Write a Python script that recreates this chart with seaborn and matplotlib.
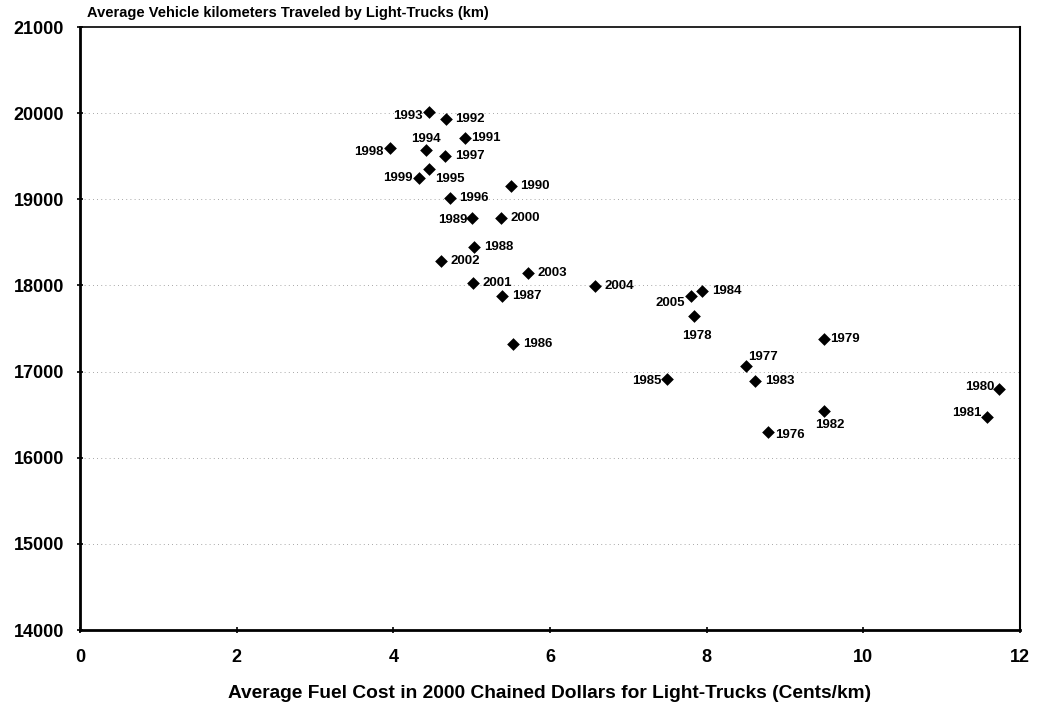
import seaborn as sns
import matplotlib.pyplot as plt
import pandas as pd

# data
years = [1976, 1977, 1978, 1979, 1980, 1981, 1982, 1983, 1984, 1985,
         1986, 1987, 1988, 1989, 1990, 1991, 1992, 1993, 1994, 1995,
         1996, 1997, 1998, 1999, 2000, 2001, 2002, 2003, 2004, 2005]
fuel_cost = [8.78, 8.50, 7.84, 9.50, 11.73, 11.58, 9.50, 8.62, 7.94, 7.49,
             5.53, 5.39, 5.03, 5.00, 5.50, 4.92, 4.67, 4.46, 4.42, 4.46,
             4.72, 4.66, 3.96, 4.33, 5.37, 5.02, 4.61, 5.72, 6.57, 7.80]
vkt = [16300, 17060, 17640, 17380, 16800, 16470, 16540, 16890, 17930, 16910,
       17320, 17880, 18450, 18780, 19150, 19710, 19930, 20010, 19570, 19350,
       19010, 19500, 19600, 19250, 18780, 18030, 18280, 18150, 17990, 17880]

df = pd.DataFrame({"year": years, "cost": fuel_cost, "vkt": vkt})

# label placement: (dx, dy) in points, horizontal alignment
label_pos = {
    1993: (-5, -3, "right"), 1992: (7, 0, "left"), 1991: (4, 0, "left"),
    1994: (0, 8, "center"), 1998: (-5, -3, "right"), 1997: (7, 0, "left"),
    1995: (4, -7, "left"), 1999: (-5, 0, "right"), 1990: (7, 0, "left"),
    1996: (7, 0, "left"), 1989: (-3, -1, "right"), 2000: (7, 0, "left"),
    1988: (7, 0, "left"), 2002: (7, 0, "left"), 2003: (7, 0, "left"),
    2001: (7, 0, "left"), 2004: (7, 0, "left"), 1987: (7, 0, "left"),
    1986: (7, 0, "left"), 2005: (-4, -5, "right"), 1984: (7, 0, "left"),
    1978: (2, -14, "center"), 1979: (4, 0, "left"), 1977: (2, 7, "left"),
    1985: (-4, -1, "right"), 1983: (7, 0, "left"), 1982: (4, -10, "center"),
    1976: (5, -2, "left"), 1980: (-3, 1, "right"), 1981: (-4, 3, "right"),
}

sns.set_style("white")
plt.rcParams["font.family"] = ["Liberation Sans", "DejaVu Sans"]
plt.rcParams["font.weight"] = "bold"
plt.rcParams["text.color"] = "black"
plt.rcParams["xtick.color"] = "black"
plt.rcParams["ytick.color"] = "black"
plt.rcParams["axes.labelcolor"] = "black"

fig = plt.figure(figsize=(10.37, 7.07), dpi=100)
ax = fig.add_axes([0.0771, 0.1089, 0.9065, 0.8529])

for yv in range(15000, 21000, 1000):
    ax.axhline(yv, color="#8a8a8a", lw=0.6, ls=(0, (1, 4)), zorder=0)

sns.scatterplot(data=df, x="cost", y="vkt", marker="D", s=42, color="black",
                edgecolor="black", linewidth=0, ax=ax, zorder=3)

for yr, xv, yv in zip(years, fuel_cost, vkt):
    dx, dy, ha = label_pos[yr]
    ax.annotate(str(yr), (xv, yv), xytext=(dx, dy), textcoords="offset points",
                ha=ha, va="center", fontsize=9.5, fontweight="bold")

ax.set_xlim(0, 12)
ax.set_ylim(14000, 21000)
ax.set_xticks(range(0, 13, 2))
ax.set_yticks(range(14000, 21001, 1000))
ax.tick_params(axis="both", labelsize=13, length=5, width=1.2, direction="inout",
               left=True, bottom=True)
ax.tick_params(axis="x", pad=11)
ax.tick_params(axis="y", pad=9)
for lab in ax.get_xticklabels() + ax.get_yticklabels():
    lab.set_fontweight("bold")
for side in ["left", "bottom", "right", "top"]:
    ax.spines[side].set_color("black")
ax.spines["left"].set_linewidth(2)
ax.spines["bottom"].set_linewidth(2)
ax.spines["right"].set_linewidth(1.5)
ax.spines["top"].set_linewidth(1.2)

ax.set_xlabel("Average Fuel Cost in 2000 Chained Dollars for Light-Trucks (Cents/km)",
              fontsize=13.8, fontweight="bold", labelpad=14)
ax.set_ylabel("")
fig.text(0.084, 0.981, "Average Vehicle kilometers Traveled by Light-Trucks (km)",
         fontsize=10.5, fontweight="bold", ha="left", va="center")

fig.savefig("out.png", dpi=100)
